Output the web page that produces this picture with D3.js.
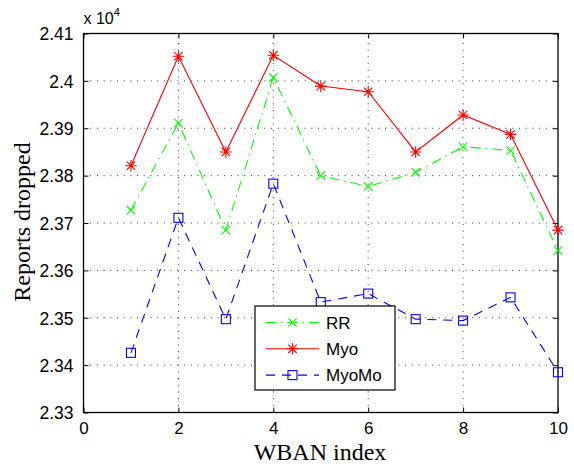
<!DOCTYPE html>
<html>
<head>
<meta charset="utf-8">
<script src="https://cdn.jsdelivr.net/npm/d3@7"></script>
<style>
  body { margin: 0; background: #fff; }
  svg { display: block; }
</style>
</head>
<body>
<svg id="chart" width="574" height="468"></svg>
<script>
// WBAN index and number of reports dropped per scheme
const wban = [1, 2, 3, 4, 5, 6, 7, 8, 9, 10];
const rrDropped     = [23727, 23911, 23685, 24007, 23800, 23777, 23807, 23861, 23853, 23642];
const myoDropped    = [23821, 24052, 23850, 24054, 23989, 23977, 23850, 23928, 23887, 23685];
const myoMoDropped  = [23426, 23711, 23497, 23783, 23533, 23551, 23497, 23494, 23543, 23385];

const xTicks = [0, 2, 4, 6, 8, 10];
const yTicks = [23300, 23400, 23500, 23600, 23700, 23800, 23900, 24000, 24100];
const seriesNames = ["RR", "Myo", "MyoMo"];

const svg = d3.select("#chart");
const plot = { left: 83.5, right: 558, top: 33.5, bottom: 412.5 };

const x = d3.scaleLinear().domain([0, 10]).range([plot.left, plot.right]);
const y = d3.scaleLinear().domain([23300, 24100]).range([plot.bottom, plot.top]);

const tickFont = "'Liberation Sans', Arial, Helvetica, sans-serif";
const labelFont = "'Liberation Serif', 'Times New Roman', serif";

// dotted grid
const grid = svg.append("g").attr("stroke", "#333").attr("stroke-width", 1)
  .attr("stroke-dasharray", "1,5.7");
grid.selectAll("line.gx").data(xTicks.slice(1, -1)).join("line")
  .attr("x1", d => x(d)).attr("x2", d => x(d))
  .attr("y1", plot.bottom).attr("y2", plot.top);
grid.selectAll("line.gy").data(yTicks.slice(1, -1)).join("line")
  .attr("x1", plot.left).attr("x2", plot.right)
  .attr("y1", d => y(d)).attr("y2", d => y(d));

// tick labels shown in units of 10^4, trailing zero dropped
const yFmt = d => {
  const s = (d / 1e4).toFixed(2);
  return s.endsWith("0") ? s.slice(0, -1) : s;
};

// axes with inward ticks on all four sides
const axisBottom = svg.append("g").attr("transform", `translate(0,${plot.bottom})`)
  .call(d3.axisBottom(x).tickValues(xTicks).tickSize(-5).tickPadding(9).tickFormat(d3.format("d")));
const axisTop = svg.append("g").attr("transform", `translate(0,${plot.top})`)
  .call(d3.axisTop(x).tickValues(xTicks).tickSize(-5).tickFormat(""));
const axisLeft = svg.append("g").attr("transform", `translate(${plot.left},0)`)
  .call(d3.axisLeft(y).tickValues(yTicks).tickSize(-5).tickPadding(10).tickFormat(yFmt));
const axisRight = svg.append("g").attr("transform", `translate(${plot.right},0)`)
  .call(d3.axisRight(y).tickValues(yTicks).tickSize(-5).tickFormat(""));

[axisBottom, axisTop, axisLeft, axisRight].forEach(g => {
  g.select(".domain").remove();
  g.selectAll(".tick line").attr("stroke", "#000").attr("stroke-width", 1);
  g.selectAll("text").attr("fill", "#000").style("font-family", tickFont).style("font-size", "17.5px");
});
axisBottom.selectAll("text").style("font-size", "17px").attr("dy", "0.72em");
axisLeft.selectAll("text").attr("dy", "0.36em");

// box
svg.append("rect")
  .attr("x", plot.left).attr("y", plot.top)
  .attr("width", plot.right - plot.left).attr("height", plot.bottom - plot.top)
  .attr("fill", "none").attr("stroke", "#000").attr("stroke-width", 1.3);

// exponent label
const expo = svg.append("text").attr("x", plot.left).attr("y", 24)
  .style("font-family", tickFont).style("font-size", "16px").attr("fill", "#000");
expo.append("tspan").text("x 10");
expo.append("tspan").attr("dy", -8).style("font-size", "11px").text("4");

// axis labels
svg.append("text").attr("x", 320).attr("y", 460).attr("text-anchor", "middle")
  .style("font-family", labelFont).style("font-size", "24px").attr("fill", "#000")
  .text("WBAN index");
svg.append("text").attr("transform", "translate(30,222) rotate(-90)").attr("text-anchor", "middle")
  .style("font-family", labelFont).style("font-size", "24px").attr("fill", "#000")
  .text("Reports dropped");

// series definitions
const series = [
  { name: seriesNames[0], values: rrDropped, color: "#00ff00", dash: "10,5,1.5,5", marker: "x" },
  { name: seriesNames[1], values: myoDropped, color: "#ff0000", dash: null, marker: "star" },
  { name: seriesNames[2], values: myoMoDropped, color: "#0000ff", dash: "9,7", marker: "square" }
];

function drawMarker(g, type, cx, cy, color) {
  const m = g.append("g").attr("transform", `translate(${cx},${cy})`)
    .attr("stroke", color).attr("stroke-width", 1.1).attr("fill", "none");
  if (type === "x") {
    const r = 4.2;
    m.append("path").attr("d", `M${-r},${-r}L${r},${r}M${-r},${r}L${r},${-r}`);
  } else if (type === "star") {
    const r = 5.8, q = 4.2;
    m.append("path").attr("d",
      `M${-r},0L${r},0M0,${-r}L0,${r}M${-q},${-q}L${q},${q}M${-q},${q}L${q},${-q}`);
  } else {
    const s = 4.5;
    m.append("rect").attr("x", -s).attr("y", -s).attr("width", 2 * s).attr("height", 2 * s);
  }
}

const line = d3.line().x((d, i) => x(wban[i])).y(d => y(d));

series.forEach(s => {
  svg.append("path").datum(s.values)
    .attr("d", line)
    .attr("fill", "none").attr("stroke", s.color).attr("stroke-width", 1.1)
    .attr("stroke-dasharray", s.dash);
  const mg = svg.append("g");
  s.values.forEach((v, i) => drawMarker(mg, s.marker, x(wban[i]), y(v), s.color));
});

// legend
const lg = svg.append("g");
lg.append("rect").attr("x", 255).attr("y", 306).attr("width", 140).attr("height", 84)
  .attr("fill", "#fff").attr("stroke", "#000").attr("stroke-width", 1.2);
series.forEach((s, i) => {
  const ly = 322.5 + i * 26.3;
  lg.append("line").attr("x1", 266).attr("x2", 319).attr("y1", ly).attr("y2", ly)
    .attr("stroke", s.color).attr("stroke-width", 1.1).attr("stroke-dasharray", s.dash);
  drawMarker(lg, s.marker, 292.5, ly, s.color);
  lg.append("text").attr("x", 326).attr("y", ly + 6)
    .style("font-family", tickFont).style("font-size", "17px").attr("fill", "#000")
    .text(s.name);
});
</script>
</body>
</html>
